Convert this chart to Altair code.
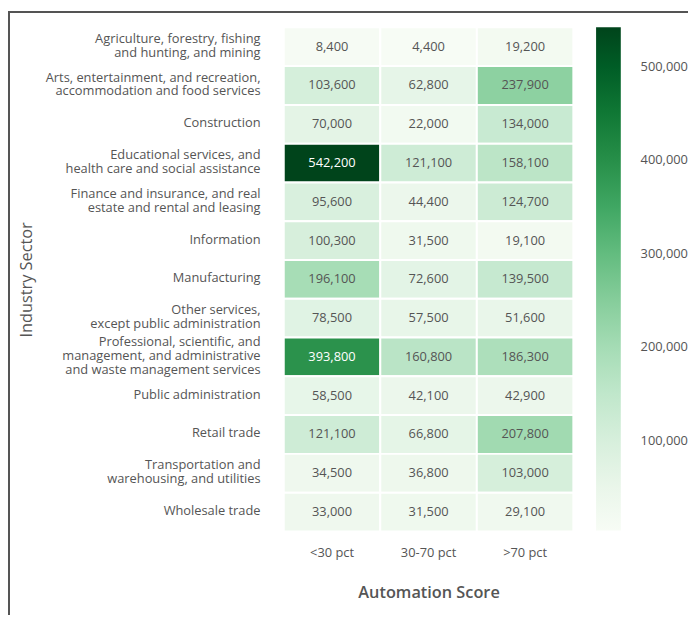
import altair as alt
import pandas as pd

sectors = [
    "Agriculture, forestry, fishing\nand hunting, and mining",
    "Arts, entertainment, and recreation,\naccommodation and food services",
    "Construction",
    "Educational services, and\nhealth care and social assistance",
    "Finance and insurance, and real\nestate and rental and leasing",
    "Information",
    "Manufacturing",
    "Other services,\nexcept public administration",
    "Professional, scientific, and\nmanagement, and administrative\nand waste management services",
    "Public administration",
    "Retail trade",
    "Transportation and\nwarehousing, and utilities",
    "Wholesale trade",
]
scores = ["<30 pct", "30-70 pct", ">70 pct"]
low = [8400, 103600, 70000, 542200, 95600, 100300, 196100, 78500, 393800, 58500, 121100, 34500, 33000]
mid = [4400, 62800, 22000, 121100, 44400, 31500, 72600, 57500, 160800, 42100, 66800, 36800, 31500]
high = [19200, 237900, 134000, 158100, 124700, 19100, 139500, 51600, 186300, 42900, 207800, 103000, 29100]
legend_ticks = [100000, 200000, 300000, 400000, 500000]
palette = ["#f7fcf5", "#e3f4e6", "#c6e9d0", "#a2dbb2", "#76c68f", "#45ac68", "#238b45", "#006d2c", "#00441b"]

rows = []
for i, s in enumerate(sectors):
    for sc, arr in zip(scores, [low, mid, high]):
        rows.append({"sector": s, "score": sc, "value": arr[i]})
df = pd.DataFrame(rows)

FONT = "Open Sans"
W, H = 293, 510

x = alt.X("score:N", sort=scores,
          axis=alt.Axis(title="Automation Score", labelAngle=0, ticks=False, domain=False,
                        labelPadding=15, labelFontSize=13, labelColor="#555",
                        titleFontSize=16.5, titleColor="#555", titleFontWeight=600,
                        titlePadding=26))
y = alt.Y("sector:N", sort=sectors,
          axis=alt.Axis(title="Industry Sector", ticks=False, domain=False,
                        labelPadding=24, labelFontSize=13, labelColor="#555",
                        labelLineHeight=14, labelLimit=300,
                        labelExpr="split(datum.label, '\\n')",
                        labelOffset={"condition": [
                            {"test": "length(split(datum.value, '\\n')) == 3", "value": -15},
                            {"test": "length(split(datum.value, '\\n')) == 2", "value": -8}],
                            "value": -1},
                        titleFontSize=16.5, titleColor="#555", titleFontWeight="normal",
                        titleX=-260, titleY=255, titleAngle=270, titleBaseline="middle",
                        titleAlign="center"))

base = alt.Chart(df)

rect = base.mark_rect(stroke="white", strokeWidth=2).encode(
    x=x, y=y,
    color=alt.Color("value:Q",
                    scale=alt.Scale(range=palette, domain=[4400, 542200]),
                    legend=alt.Legend(title=None, gradientLength=509, gradientThickness=25,
                                      offset=23, labelFontSize=13, labelColor="#555",
                                      labelOffset=20, values=legend_ticks,
                                      labelExpr="format(datum.value, ',')",
                                      direction="vertical", orient="right",
                                      gradientStrokeWidth=0)),
)

text = base.mark_text(fontSize=13, font=FONT).encode(
    x=alt.X("score:N", sort=scores), y=alt.Y("sector:N", sort=sectors),
    text=alt.Text("value:Q", format=","),
    color=alt.condition("datum.value > 300000", alt.value("white"), alt.value("#555")),
)

frame_left = alt.Chart(df).mark_rule(color="#555", strokeWidth=1.5).encode(
    x=alt.value(-278.5), y=alt.value(-16), y2=alt.value(H + 84)
)
frame_top = alt.Chart(df).mark_rule(color="#555", strokeWidth=1.5).encode(
    x=alt.value(-279), x2=alt.value(W + 116), y=alt.value(-15.5)
)

chart = alt.layer(rect, text, frame_left, frame_top).properties(
    width=W, height=H,
    autosize=alt.AutoSizeParams(type="none"),
    padding={"left": 279, "top": 16, "right": 116, "bottom": 84},
).configure(font=FONT).configure_view(stroke=None)

chart.save("out.html", embed_options={"renderer": "svg", "actions": False})
